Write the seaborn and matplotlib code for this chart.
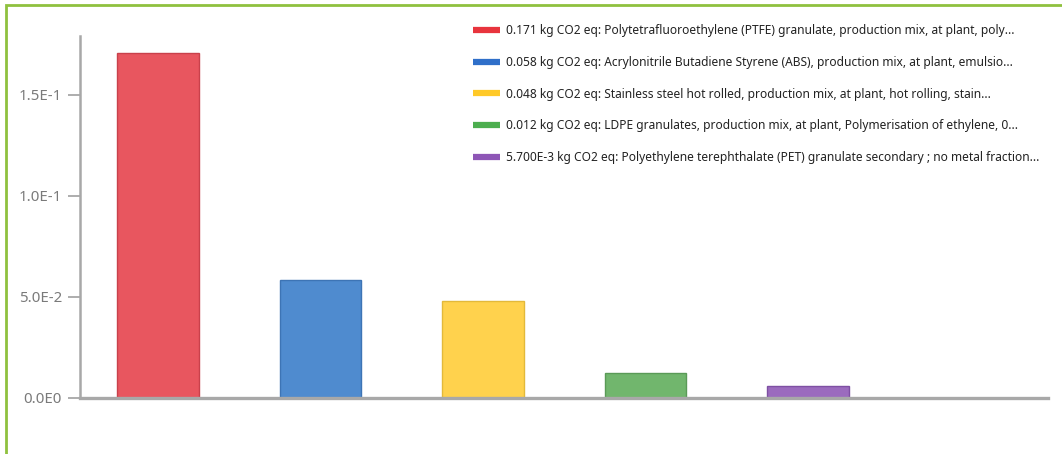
import matplotlib
matplotlib.use("Agg")
import matplotlib.pyplot as plt
from matplotlib.lines import Line2D
from matplotlib.patches import Rectangle
import seaborn as sns
import pandas as pd

# Contributions to climate change (kg CO2 eq) per material
materials = ["PTFE", "ABS", "Stainless steel", "LDPE", "PET"]
values = [0.171, 0.058, 0.048, 0.012, 0.0057]
legend_labels = [
    "0.171 kg CO2 eq: Polytetrafluoroethylene (PTFE) granulate, production mix, at plant, poly...",
    "0.058 kg CO2 eq: Acrylonitrile Butadiene Styrene (ABS), production mix, at plant, emulsio...",
    "0.048 kg CO2 eq: Stainless steel hot rolled, production mix, at plant, hot rolling, stain...",
    "0.012 kg CO2 eq: LDPE granulates, production mix, at plant, Polymerisation of ethylene, 0...",
    "5.700E-3 kg CO2 eq: Polyethylene terephthalate (PET) granulate secondary ; no metal fraction...",
]
y_ticks = [0.0, 0.05, 0.10, 0.15]
y_tick_labels = ["0.0E0", "5.0E-2", "1.0E-1", "1.5E-1"]

bar_colors = ["#E8565F", "#4F8BCF", "#FFD24D", "#71B66D", "#9B6BBE"]
edge_colors = ["#C9414B", "#3D74B5", "#E3B93A", "#5A9A57", "#7E50A3"]
legend_colors = ["#E8343D", "#2F6FC9", "#FFC928", "#4CAE4F", "#8E56B6"]

sns.set_theme(style="white")
plt.rcParams["font.family"] = ["Noto Sans", "DejaVu Sans"]

fig = plt.figure(figsize=(10.62, 4.54), dpi=100)
ax = fig.add_axes([80 / 1062, 1 - 397.5 / 454, (1048 - 80) / 1062, (397.5 - 36) / 454])

df = pd.DataFrame({"material": materials, "value": values})
sns.barplot(data=df, x="material", y="value", hue="material", palette=bar_colors,
            width=0.5, legend=False, ax=ax, saturation=1)
for patch, ec in zip(ax.patches, edge_colors):
    patch.set_edgecolor(ec)
    patch.set_linewidth(1.0)

ax.set_xlim(-0.48, 5.477)
ax.set_ylim(0, 0.1792)
ax.set_xlabel("")
ax.set_ylabel("")
ax.set_xticks([])
ax.set_yticks(y_ticks)
ax.set_yticklabels(y_tick_labels, color="#7a7a7a", fontsize=10.8)
ax.tick_params(axis="y", length=9, width=1.2, color="#a0a0a0", pad=4, left=True)

for side in ["top", "right"]:
    ax.spines[side].set_visible(False)
ax.spines["left"].set_color("#a8a8a8")
ax.spines["left"].set_linewidth(1.8)
ax.spines["bottom"].set_color("#a8a8a8")
ax.spines["bottom"].set_linewidth(2.4)

handles = [Line2D([0], [0], color=c, lw=4.5, solid_capstyle="butt") for c in legend_colors]
leg = fig.legend(handles, legend_labels, loc="upper left",
                 bbox_to_anchor=(473 / 1062, 1 - 24 / 454), frameon=False,
                 fontsize=8.6, handlelength=2.3, handletextpad=0.45,
                 labelspacing=1.57, borderaxespad=0, borderpad=0)
for t in leg.get_texts():
    t.set_color("#222222")

# green panel frame
fig.add_artist(Rectangle((6 / 1062, -0.05), 1.2, 1 - 5 / 454 + 0.05,
                         transform=fig.transFigure, fill=False,
                         edgecolor="#8FC13F", linewidth=2.0, clip_on=False))

fig.savefig("out.png", dpi=100)
